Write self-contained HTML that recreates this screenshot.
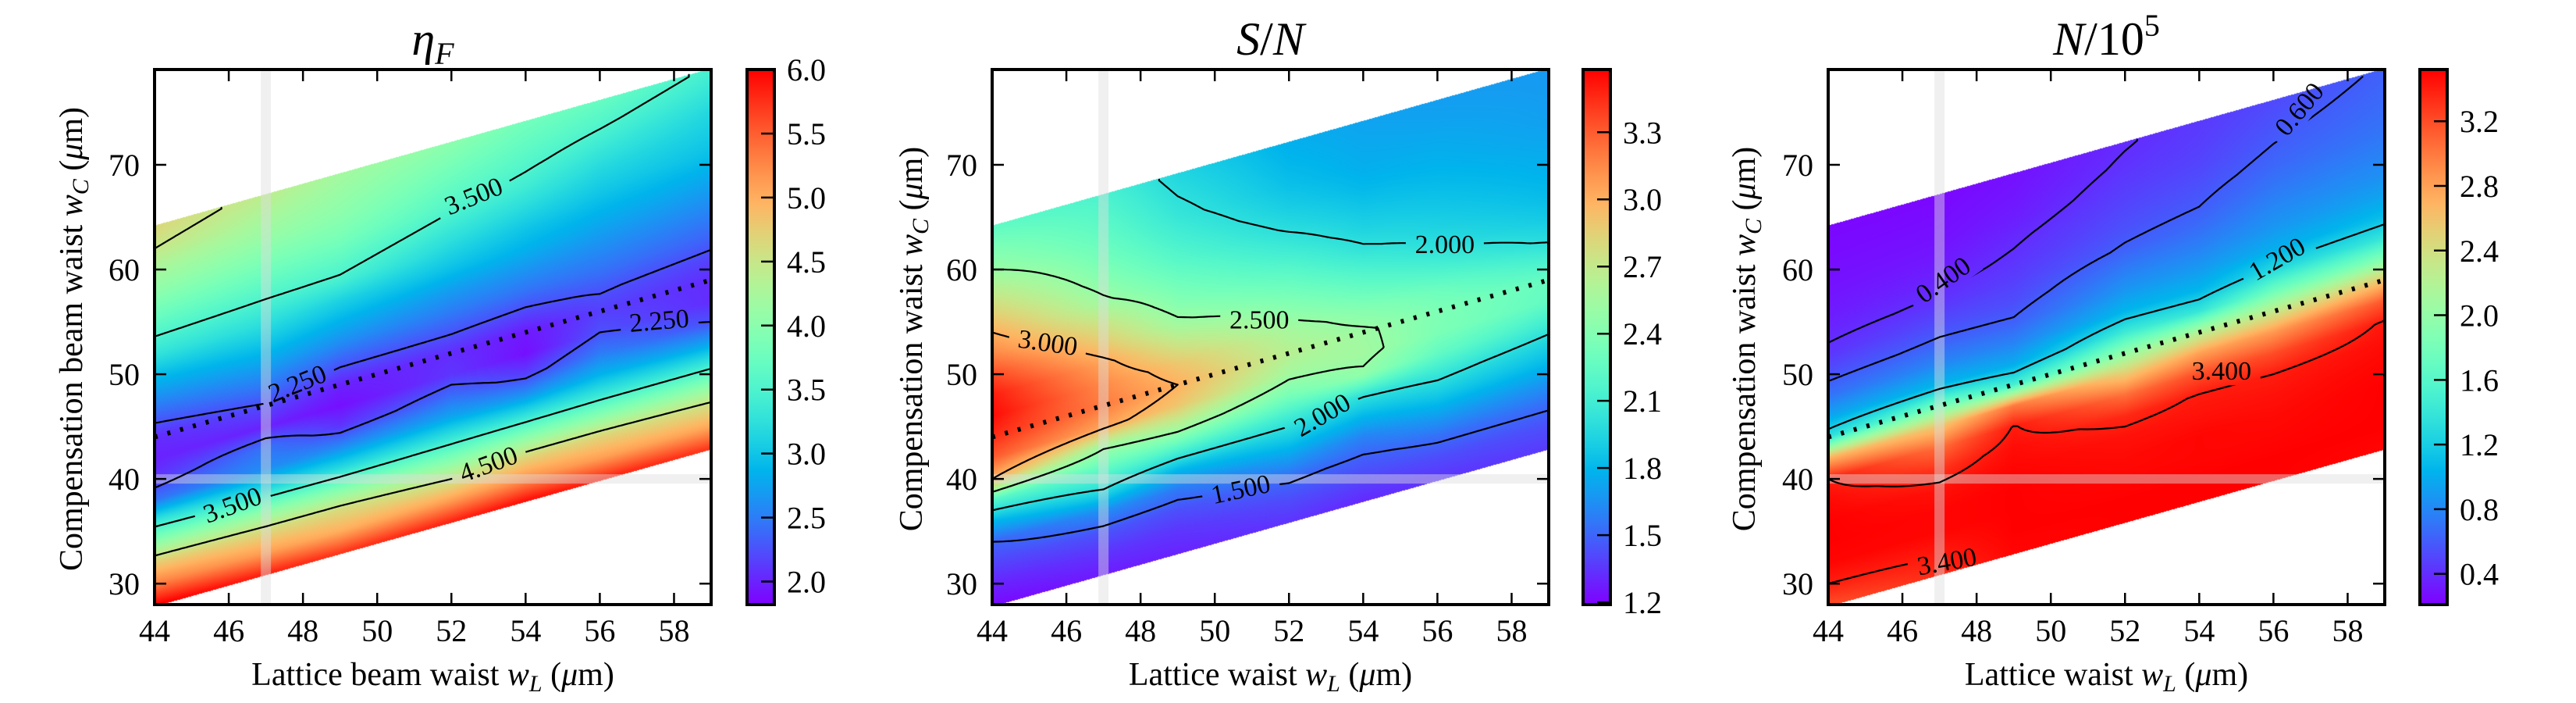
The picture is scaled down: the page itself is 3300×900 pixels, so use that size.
<!DOCTYPE html>
<html><head><meta charset="utf-8"><title>Beam waist scans</title>
<style>
body{margin:0;width:3300px;height:900px;background:#fff;position:relative;overflow:hidden;font-family:"Liberation Serif",serif;}
canvas{position:absolute;}
svg{position:absolute;left:0;top:0;}
</style></head>
<body>
<canvas id="c0" width="713" height="685" style="left:198px;top:89px"></canvas>
<canvas id="c1" width="713" height="685" style="left:1271px;top:89px"></canvas>
<canvas id="c2" width="713" height="685" style="left:2342px;top:89px"></canvas>
<svg id="svg" width="3300" height="900" xmlns="http://www.w3.org/2000/svg"></svg>
<script>
// ---- shared axes data ----
const xTicks=[44,46,48,50,52,54,56,58];
const yTicks=[30,40,50,60,70];
const colWL=[44,47,49,52,54,56,59];
const rowD=[-16,-14,-12,-10,-8,-6,-4,-2,0,2,4,6,8,10,12,14,16,18,20];

// ---- eta_F values (columns by lattice waist, rows by wC-wL) ----
const eta44=[6.0,5.3,4.75,4.0,3.3,2.45,2.1,2.0,2.05,2.35,2.65,2.95,3.3,3.55,3.8,4.05,4.25,4.5,4.65];
const eta47=[5.8,5.1,4.65,4.0,3.2,2.6,2.45,2.0,2.22,2.5,2.75,3.0,3.25,3.48,3.7,3.9,4.1,4.25,4.4];
const eta49=[5.7,5.0,4.65,3.95,3.2,2.6,2.1,1.9,2.0,2.3,2.6,2.85,3.1,3.45,3.65,3.85,4.0,4.1,4.2];
const eta52=[5.8,5.1,4.5,3.9,3.3,2.75,2.4,2.1,2.05,2.27,2.5,2.7,2.95,3.15,3.35,3.55,3.7,3.85,4.0];
const eta54=[5.9,5.2,4.7,4.0,3.3,2.65,2.15,1.9,1.95,2.2,2.45,2.65,2.85,3.0,3.2,3.4,3.55,3.68,3.8];
const eta56=[5.8,5.1,4.7,4.0,3.35,2.85,2.5,2.25,2.15,2.27,2.45,2.6,2.75,2.9,3.05,3.2,3.38,3.55,3.7];
const eta59=[5.7,5.05,4.6,4.0,3.35,2.75,2.25,2.05,2.05,2.17,2.35,2.5,2.65,2.8,2.95,3.05,3.15,3.3,3.45];
const etaLevels=[2.25,3.5,4.5];
const etaCbTicks=[2.0,2.5,3.0,3.5,4.0,4.5,5.0,5.5,6.0];
const etaLabelText=["3.500","2.250","2.250","3.500","4.500"];
const etaLabelWL=[52.6,47.85,57.6,46.1,53.0];
const etaLabelWC=[67.0,49.1,55.1,37.5,41.4];
const etaLabelRot=[-22,-22,-5,-20,-20];

// ---- S/N values ----
const sn44=[1.22,1.3,1.4,1.5,1.8,2.2,3.0,3.3,3.45,3.55,3.5,3.35,3.15,3.0,2.83,2.67,2.5,2.38,2.25];
const sn47=[1.28,1.35,1.45,1.65,2.0,2.25,2.52,3.05,3.2,3.15,3.05,2.88,2.72,2.53,2.42,2.33,2.26,2.2,2.15];
const sn49=[1.3,1.35,1.43,1.57,1.82,2.2,2.6,2.9,3.0,2.9,2.72,2.53,2.4,2.3,2.2,2.12,2.05,2.0,1.95];
const sn52=[1.35,1.42,1.52,1.7,1.9,2.1,2.35,2.55,2.65,2.58,2.45,2.32,2.2,2.08,1.98,1.9,1.84,1.8,1.77];
const sn54=[1.32,1.4,1.48,1.6,1.8,2.02,2.47,2.55,2.53,2.42,2.28,2.15,2.02,1.93,1.86,1.8,1.76,1.74,1.72];
const sn56=[1.35,1.42,1.53,1.7,1.88,2.05,2.25,2.37,2.38,2.3,2.15,2.01,1.93,1.87,1.82,1.78,1.75,1.72,1.7];
const sn59=[1.37,1.43,1.52,1.65,1.8,1.93,2.1,2.25,2.27,2.12,1.97,1.88,1.82,1.78,1.75,1.72,1.7,1.69,1.68];
const snLevels=[1.5,2.0,2.5,3.0];
const snCbTicks=[1.2,1.5,1.8,2.1,2.4,2.7,3.0,3.3];
const snLabelText=["2.000","2.500","3.000","2.000","1.500"];
const snLabelWL=[56.2,51.2,45.5,52.9,50.7];
const snLabelWC=[62.4,55.2,53.0,46.1,39.0];
const snLabelRot=[0,0,8,-30,-12];

// ---- N/10^5 values ----
const n44=[3.2,3.4,3.5,3.52,3.52,3.48,3.4,2.7,1.35,0.95,0.7,0.55,0.43,0.37,0.32,0.29,0.27,0.25,0.24];
const n47=[3.35,3.42,3.5,3.5,3.45,3.3,3.05,2.6,1.8,1.05,0.8,0.63,0.52,0.42,0.36,0.31,0.28,0.26,0.24];
const n49=[3.5,3.52,3.52,3.52,3.5,3.47,3.41,3.0,1.5,0.98,0.78,0.62,0.53,0.47,0.42,0.38,0.33,0.3,0.28];
const n52=[3.52,3.52,3.5,3.48,3.45,3.35,3.05,2.55,2.0,1.45,1.05,0.88,0.75,0.62,0.55,0.5,0.46,0.42,0.39];
const n54=[3.52,3.52,3.5,3.5,3.45,3.41,3.2,2.8,2.2,1.4,1.05,0.9,0.78,0.68,0.6,0.55,0.5,0.47,0.45];
const n56=[3.52,3.52,3.5,3.48,3.45,3.4,3.2,2.85,2.3,1.75,1.28,1.0,0.88,0.8,0.72,0.65,0.6,0.56,0.52];
const n59=[3.5,3.52,3.52,3.52,3.5,3.47,3.42,3.15,2.6,1.9,1.4,1.1,0.95,0.85,0.78,0.72,0.68,0.65,0.62];
const nLevels=[0.4,0.6,1.2,3.4];
const nCbTicks=[0.4,0.8,1.2,1.6,2.0,2.4,2.8,3.2];
const nLabelText=["0.400","0.600","1.200","3.400","3.400"];
const nLabelWL=[47.1,56.7,56.1,54.6,47.2];
const nLabelWC=[59.0,75.3,61.0,50.3,32.1];
const nLabelRot=[-35,-50,-30,0,-10];

const NS="http://www.w3.org/2000/svg";
const svg=document.getElementById('svg');
const X0=44,X1=59,Y0=28,Y1=79.1,AW=713,AH=685,TOP=89;
function mk(tag,attrs,parent){const e=document.createElementNS(NS,tag);for(const k in attrs)e.setAttribute(k,attrs[k]);(parent||svg).appendChild(e);return e;}
function cmap(t){t=Math.max(0,Math.min(1,t));const r=Math.min(1,Math.abs(2*t-0.5)),g=Math.max(0,Math.sin(Math.PI*t)),b=Math.max(0,Math.cos(Math.PI*t/2));return [Math.round(r*255),Math.round(g*255),Math.round(b*255)];}
function field(cols,wL,wc){
  const d=wc-wL; if(d<-16.2||d>20.2) return NaN;
  const dd=Math.max(-16,Math.min(20,d));
  let i=0; while(i<colWL.length-2&&wL>colWL[i+1]) i++;
  let tx=(wL-colWL[i])/(colWL[i+1]-colWL[i]); tx=Math.max(0,Math.min(1,tx));
  let j=Math.min(rowD.length-2,Math.floor((dd+16)/2)); let ty=(dd-rowD[j])/2;
  const a=cols[i][j],b=cols[i+1][j],c=cols[i][j+1],e=cols[i+1][j+1];
  return (a*(1-tx)+b*tx)*(1-ty)+(c*(1-tx)+e*tx)*ty;
}
function fmt(v,dec){return v.toFixed(dec);}

const panels=[
 {key:'eta',left:198,cols:[eta44,eta47,eta49,eta52,eta54,eta56,eta59],vmin:1.82,vmax:6.0,levels:etaLevels,cb:etaCbTicks,cbDec:1,
  lt:etaLabelText,lx:etaLabelWL,ly:etaLabelWC,lr:etaLabelRot,cbLeft:957,
  title:'<tspan font-style="italic">η</tspan><tspan font-style="italic" font-size="40" dy="12">F</tspan>',
  xl:'Lattice beam waist ',yl:'Compensation beam waist ',ylx:91},
 {key:'sn',left:1271,cols:[sn44,sn47,sn49,sn52,sn54,sn56,sn59],vmin:1.19,vmax:3.58,levels:snLevels,cb:snCbTicks,cbDec:1,
  lt:snLabelText,lx:snLabelWL,ly:snLabelWC,lr:snLabelRot,cbLeft:2028,
  title:'<tspan font-style="italic">S</tspan>/<tspan font-style="italic">N</tspan>',
  xl:'Lattice waist ',yl:'Compensation waist ',ylx:1167},
 {key:'n',left:2342,cols:[n44,n47,n49,n52,n54,n56,n59],vmin:0.21,vmax:3.52,levels:nLevels,cb:nCbTicks,cbDec:1,
  lt:nLabelText,lx:nLabelWL,ly:nLabelWC,lr:nLabelRot,cbLeft:3100,
  title:'<tspan font-style="italic">N</tspan>/10<tspan font-size="40" dy="-24">5</tspan>',
  xl:'Lattice waist ',yl:'Compensation waist ',ylx:2234}
];

const defs=mk('defs',{});
panels.forEach((p,pi)=>{
  const X=w=>p.left+(w-X0)/(X1-X0)*AW;
  const Y=w=>TOP+(Y1-w)/(Y1-Y0)*AH;
  const cv=document.getElementById('c'+pi),ctx=cv.getContext('2d');
  const img=ctx.createImageData(AW,AH);
  for(let py=0;py<AH;py++){const wc=Y1-(py+0.5)/AH*(Y1-Y0);
    for(let px=0;px<AW;px++){const wL=X0+(px+0.5)/AW*(X1-X0);
      const v=field(p.cols,wL,wc),k=(py*AW+px)*4;
      if(isNaN(v)){img.data[k]=255;img.data[k+1]=255;img.data[k+2]=255;img.data[k+3]=255;continue;}
      const c=cmap((v-p.vmin)/(p.vmax-p.vmin));
      img.data[k]=c[0];img.data[k+1]=c[1];img.data[k+2]=c[2];img.data[k+3]=255;}}
  ctx.putImageData(img,0,0);

  const clip=mk('clipPath',{id:'clip'+pi},defs);
  mk('rect',{x:p.left,y:TOP,width:AW,height:AH},clip);
  const g=mk('g',{'clip-path':'url(#clip'+pi+')'});
  
  
  const vb=mk('rect',{x:X(47)-6.5,y:TOP,width:13,height:AH,fill:'rgba(222,222,222,0.45)'},g);
  
  
  const hb=mk('rect',{x:p.left,y:Y(40)-6,width:AW,height:12,fill:'rgba(222,222,222,0.45)'},g);
  
  
  const nx=151,ny=512,st=0.1; const grid=new Float32Array(nx*ny);
  for(let gy=0;gy<ny;gy++)for(let gx=0;gx<nx;gx++)grid[gy*nx+gx]=field(p.cols,X0+gx*st,Y0+gy*st);
  const mask=mk('mask',{id:'mask'+pi},defs);
  mk('rect',{x:0,y:0,width:3300,height:900,fill:'#fff'},mask);
  p.lt.forEach((t,li)=>{mk('rect',{x:X(p.lx[li])-50,y:Y(p.ly[li])-18,width:100,height:36,fill:'#000',transform:`rotate(${p.lr[li]} ${X(p.lx[li])} ${Y(p.ly[li])})`},mask);});
  const cg=mk('g',{mask:'url(#mask'+pi+')'},g);
  
  
  p.levels.forEach(L=>{
    let dstr='';
    for(let gy=0;gy<ny-1;gy++)for(let gx=0;gx<nx-1;gx++){
      const a=grid[gy*nx+gx],b=grid[gy*nx+gx+1],c=grid[(gy+1)*nx+gx+1],d=grid[(gy+1)*nx+gx];
      if(isNaN(a)||isNaN(b)||isNaN(c)||isNaN(d))continue;
      const pts=[];const x0=X0+gx*st,y0=Y0+gy*st;
      if((a<L)!==(b<L)){const t=(L-a)/(b-a);pts.push([x0+t*st,y0]);}
      if((b<L)!==(c<L)){const t=(L-b)/(c-b);pts.push([x0+st,y0+t*st]);}
      if((d<L)!==(c<L)){const t=(L-d)/(c-d);pts.push([x0+t*st,y0+st]);}
      if((a<L)!==(d<L)){const t=(L-a)/(d-a);pts.push([x0,y0+t*st]);}
      for(let q=0;q+1<pts.length;q+=2)dstr+=`M${X(pts[q][0]).toFixed(1)} ${Y(pts[q][1]).toFixed(1)}L${X(pts[q+1][0]).toFixed(1)} ${Y(pts[q+1][1]).toFixed(1)}`;
    }
    if(dstr){const pa=mk('path',{d:dstr,stroke:'#000','stroke-width':2.2,fill:'none','stroke-linecap':'round'},cg);
      
      }
  });
  p.lt.forEach((t,li)=>{const tx=mk('text',{x:X(p.lx[li]),y:Y(p.ly[li])+11,'font-size':34,'text-anchor':'middle',transform:`rotate(${p.lr[li]} ${X(p.lx[li])} ${Y(p.ly[li])})`},g);
    tx.textContent=t;
    
    });
  const dl=mk('line',{x1:X(44),y1:Y(44),x2:X(59),y2:Y(59),stroke:'#000','stroke-width':6,'stroke-dasharray':'4 13'},g);
  
  
  const fr=mk('rect',{x:p.left,y:TOP,width:AW,height:AH,fill:'none',stroke:'#000','stroke-width':4});
  
  
  xTicks.forEach(v=>{const x=X(v);
    mk('line',{x1:x,y1:TOP+AH,x2:x,y2:TOP+AH-15,stroke:'#000','stroke-width':2.5});
    mk('line',{x1:x,y1:TOP,x2:x,y2:TOP+15,stroke:'#000','stroke-width':2.5});
    const t=mk('text',{x:x,y:821,'font-size':40,'text-anchor':'middle'});t.textContent=v;
    
    });
  yTicks.forEach(v=>{const y=Y(v);
    mk('line',{x1:p.left,y1:y,x2:p.left+15,y2:y,stroke:'#000','stroke-width':2.5});
    mk('line',{x1:p.left+AW,y1:y,x2:p.left+AW-15,y2:y,stroke:'#000','stroke-width':2.5});
    const t=mk('text',{x:p.left-19,y:y+14,'font-size':40,'text-anchor':'end'});t.textContent=v;
    
    });
  const lg=mk('linearGradient',{id:'grad'+pi,x1:0,y1:1,x2:0,y2:0},defs);
  for(let s=0;s<=20;s++){const c=cmap(s/20);mk('stop',{offset:s/20,'stop-color':`rgb(${c[0]},${c[1]},${c[2]})`},lg);}
  const cb=mk('rect',{x:p.cbLeft,y:TOP,width:35,height:AH,fill:'url(#grad'+pi+')',stroke:'#000','stroke-width':4});
  
  
  p.cb.forEach(v=>{const y=TOP+(p.vmax-v)/(p.vmax-p.vmin)*AH;
    mk('line',{x1:p.cbLeft+35,y1:y,x2:p.cbLeft+18,y2:y,stroke:'#000','stroke-width':2.5});
    const t=mk('text',{x:p.cbLeft+51,y:y+14,'font-size':40});t.textContent=fmt(v,p.cbDec);
    
    });
  const cx=p.left+AW/2;
  const ti=mk('text',{x:cx,y:70,'font-size':60,'text-anchor':'middle'});ti.innerHTML=p.title;
  
  
  const xl=mk('text',{x:cx,y:877,'font-size':42,'text-anchor':'middle'});
  xl.innerHTML=p.xl+'<tspan font-style="italic">w</tspan><tspan font-style="italic" font-size="30" dy="8">L</tspan><tspan dy="-8"> (</tspan><tspan font-style="italic">μ</tspan>m)';
  
  
  const yl=mk('text',{x:p.ylx,y:434,'font-size':42,'text-anchor':'middle',transform:`rotate(-90 ${p.ylx} 434)`,dy:14});
  yl.innerHTML=p.yl+'<tspan font-style="italic">w</tspan><tspan font-style="italic" font-size="30" dy="8">C</tspan><tspan dy="-8"> (</tspan><tspan font-style="italic">μ</tspan>m)';
  
  
});
</script>
</body></html>
